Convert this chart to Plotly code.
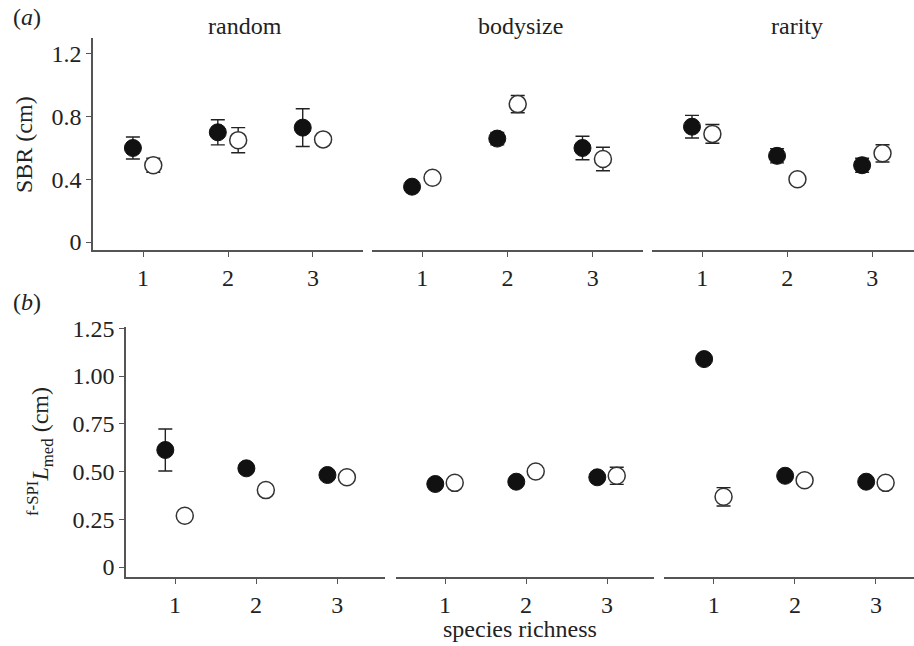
import plotly.graph_objects as go

richness = [1, 2, 3]
treatments = ["random", "bodysize", "rarity"]

# panel (a): SBR (cm)
sbr_random_filled = [0.60, 0.70, 0.73]
sbr_random_filled_err = [0.07, 0.08, 0.12]
sbr_random_open = [0.49, 0.65, 0.655]
sbr_random_open_err = [0.045, 0.08, 0.03]
sbr_bodysize_filled = [0.353, 0.66, 0.60]
sbr_bodysize_filled_err = [0.02, 0.04, 0.075]
sbr_bodysize_open = [0.41, 0.88, 0.53]
sbr_bodysize_open_err = [0.03, 0.055, 0.075]
sbr_rarity_filled = [0.736, 0.55, 0.49]
sbr_rarity_filled_err = [0.072, 0.045, 0.045]
sbr_rarity_open = [0.69, 0.40, 0.566]
sbr_rarity_open_err = [0.06, 0.02, 0.055]

# panel (b): f-SPI L_med (cm)
fspi_random_filled = [0.613, 0.517, 0.482]
fspi_random_filled_err = [0.11, 0.02, 0.02]
fspi_random_open = [0.269, 0.403, 0.47]
fspi_random_open_err = [0.02, 0.02, 0.02]
fspi_bodysize_filled = [0.435, 0.447, 0.47]
fspi_bodysize_filled_err = [0.02, 0.02, 0.02]
fspi_bodysize_open = [0.441, 0.50, 0.478]
fspi_bodysize_open_err = [0.02, 0.02, 0.045]
fspi_rarity_filled = [1.089, 0.478, 0.447]
fspi_rarity_filled_err = [0.02, 0.02, 0.02]
fspi_rarity_open = [0.368, 0.455, 0.441]
fspi_rarity_open_err = [0.048, 0.02, 0.02]

sbr_ticks = [0, 0.4, 0.8, 1.2]
sbr_ticklabels = ["0", "0.4", "0.8", "1.2"]
fspi_ticks = [0, 0.25, 0.5, 0.75, 1.0, 1.25]
fspi_ticklabels = ["0", "0.25", "0.50", "0.75", "1.00", "1.25"]

panel_a = [
    (sbr_random_filled, sbr_random_filled_err, sbr_random_open, sbr_random_open_err),
    (sbr_bodysize_filled, sbr_bodysize_filled_err, sbr_bodysize_open, sbr_bodysize_open_err),
    (sbr_rarity_filled, sbr_rarity_filled_err, sbr_rarity_open, sbr_rarity_open_err),
]
panel_b = [
    (fspi_random_filled, fspi_random_filled_err, fspi_random_open, fspi_random_open_err),
    (fspi_bodysize_filled, fspi_bodysize_filled_err, fspi_bodysize_open, fspi_bodysize_open_err),
    (fspi_rarity_filled, fspi_rarity_filled_err, fspi_rarity_open, fspi_rarity_open_err),
]

W, H = 914, 646
FONT = "Liberation Serif"
TXT = "#222222"
AX = "#555555"
FS = 24
OFF = 0.12

# pixel layout
a_cols = [(93, 363, 0.41, 3.59), (372, 643, 0.41, 3.59), (652, 914, 0.41, 3.49)]
b_cols = [(126, 385, 0.395, 3.59), (396, 654, 0.395, 3.58), (664, 914, 0.385, 3.47)]
a_rows = (38, 250, -0.051, 1.302)
b_rows = (327, 577, -0.052, 1.257)

fig = go.Figure()
layout = {}
idx = 0
for rowdef, cols, panel, ticks, tlabels in [
    (a_rows, a_cols, panel_a, sbr_ticks, sbr_ticklabels),
    (b_rows, b_cols, panel_b, fspi_ticks, fspi_ticklabels),
]:
    for c, (x0, x1, r0, r1) in enumerate(cols):
        idx += 1
        xa = "x" if idx == 1 else f"x{idx}"
        ya = "y" if idx == 1 else f"y{idx}"
        filled, ferr, opn, oerr = panel[c]
        fig.add_trace(go.Scatter(
            x=[r - OFF for r in richness], y=filled, xaxis=xa, yaxis=ya,
            mode="markers", showlegend=False, hoverinfo="skip",
            marker=dict(size=17, color="#111111", line=dict(color="#111111", width=1)),
            error_y=dict(type="data", array=ferr, color="#222222", thickness=1.4, width=7),
        ))
        fig.add_trace(go.Scatter(
            x=[r + OFF for r in richness], y=opn, xaxis=xa, yaxis=ya,
            mode="markers", showlegend=False, hoverinfo="skip",
            marker=dict(size=17, color="white", line=dict(color="#333333", width=1.5)),
            error_y=dict(type="data", array=oerr, color="#222222", thickness=1.4, width=7),
        ))
        xk = "xaxis" if idx == 1 else f"xaxis{idx}"
        yk = "yaxis" if idx == 1 else f"yaxis{idx}"
        layout[xk] = dict(
            domain=[x0 / W, x1 / W], range=[r0, r1], anchor=ya, automargin=False,
            tickvals=richness, ticktext=[str(r) for r in richness],
            showline=True, linecolor=AX, linewidth=1.5,
            ticks="outside", ticklen=5, tickcolor=AX, tickwidth=1.2,
            showgrid=False, zeroline=False,
            tickfont=dict(family=FONT, size=FS, color=TXT),
        )
        layout[yk] = dict(
            domain=[1 - rowdef[1] / H, 1 - rowdef[0] / H], automargin=False,
            range=[rowdef[2], rowdef[3]], anchor=xa,
            showgrid=False, zeroline=False,
            showline=(c == 0), linecolor=AX, linewidth=1.5,
            ticks="outside" if c == 0 else "", ticklen=5, tickcolor=AX, tickwidth=1.2,
            showticklabels=(c == 0),
            tickvals=ticks, ticktext=tlabels,
            tickfont=dict(family=FONT, size=FS, color=TXT),
        )

def ann(text, x, y, angle=0, xanchor="center"):
    return dict(text=text, x=x / W, y=1 - y / H, xref="paper", yref="paper",
                showarrow=False, xanchor=xanchor, yanchor="middle", textangle=angle,
                font=dict(family=FONT, size=FS, color=TXT))

title_x = {"random": 245, "bodysize": 520, "rarity": 797}
annotations = [ann(name, title_x[name], 26) for name in treatments]
annotations.append(ann("(<i>a</i>)", 11, 17, xanchor="left"))
annotations.append(ann("(<i>b</i>)", 11, 302, xanchor="left"))
annotations.append(ann("species richness", 520, 629))
annotations.append(ann("SBR (cm)", 24, 145, angle=-90))
annotations.append(ann("<sup>f-SPI</sup><i>L</i><sub>med</sub> (cm)", 40, 452, angle=-90))

fig.update_layout(
    width=W, height=H, margin=dict(l=0, r=0, t=0, b=0, pad=0, autoexpand=False),
    paper_bgcolor="white", plot_bgcolor="white",
    annotations=annotations, **layout,
)

fig.write_html("out.html", config={"displayModeBar": False},
               post_script="document.body.style.margin='0';document.body.style.overflow='hidden';")
